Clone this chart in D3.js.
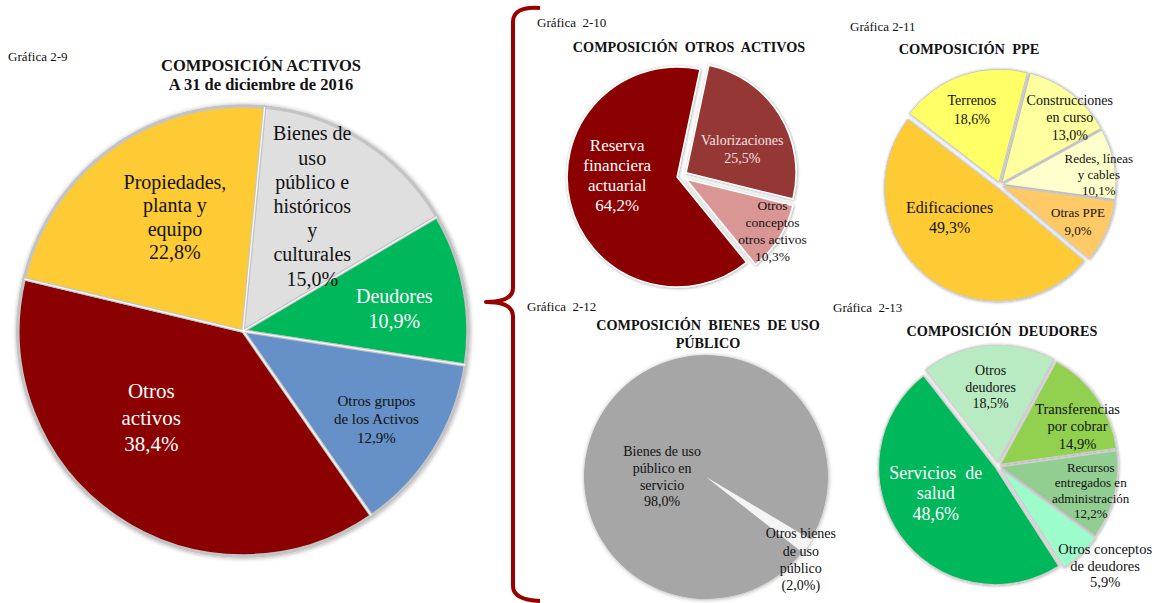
<!DOCTYPE html>
<html><head><meta charset="utf-8">
<script src="https://cdn.jsdelivr.net/npm/d3@7"></script>
<style>
html,body{margin:0;padding:0;background:#fff;}
svg text{font-family:"Liberation Serif","Times New Roman",serif;white-space:pre;}
</style></head>
<body><svg id="c" width="1160" height="603"></svg>
<script>
// ---------- DATA ----------
const activosCats = ["Bienes de\nuso\npúblico e\nhistóricos\ny\nculturales","Deudores","Otros grupos\nde los Activos","Otros\nactivos","Propiedades,\nplanta y\nequipo"];
const activosVals = [15.0,10.9,12.9,38.4,22.8];

const otrosActivosCats = ["Valorizaciones","Otros\nconceptos\notros activos","Reserva\nfinanciera\nactuarial"];
const otrosActivosVals = [25.5,10.3,64.2];

const ppeCats = ["Construcciones\nen curso","Redes, líneas\ny cables","Otras PPE","Edificaciones","Terrenos"];
const ppeVals = [13.0,10.1,9.0,49.3,18.6];

const bienesCats = ["Bienes de uso\npúblico en\nservicio","Otros bienes\nde uso\npúblico"];
const bienesVals = [98.0,2.0];

const deudoresCats = ["Otros\ndeudores","Transferencias\npor cobrar","Recursos\nentregados en\nadministración","Otros conceptos\nde deudores","Servicios  de\nsalud"];
const deudoresVals = [18.5,14.9,12.2,5.9,48.6];

const chartNames = ["Gráfica 2-9","Gráfica  2-10","Gráfica 2-11","Gráfica  2-12","Gráfica  2-13"];
const chartTitles = [["COMPOSICIÓN ACTIVOS","A 31 de diciembre de 2016"],["COMPOSICIÓN  OTROS  ACTIVOS"],["COMPOSICIÓN  PPE"],["COMPOSICIÓN  BIENES  DE USO","PÚBLICO"],["COMPOSICIÓN  DEUDORES"]];

// ---------- STYLE ----------
const svg = d3.select("#c");
const defs = svg.append("defs");
const f1 = defs.append("filter").attr("id","sh").attr("x","-20%").attr("y","-20%").attr("width","140%").attr("height","140%");
f1.append("feDropShadow").attr("dx",0.5).attr("dy",0.5).attr("stdDeviation",2).attr("flood-color","#000").attr("flood-opacity",0.35);
const f2 = defs.append("filter").attr("id","sh2").attr("x","-20%").attr("y","-20%").attr("width","140%").attr("height","140%");
f2.append("feDropShadow").attr("dx",0.5).attr("dy",0.5).attr("stdDeviation",1.5).attr("flood-color","#000").attr("flood-opacity",0.4);

const pct = (v, paren) => { const s = d3.format(".1f")(v).replace(".", ",") + "%"; return paren ? "(" + s + ")" : s; };
const rad = d => d * Math.PI / 180;

function drawPie(o){
  const g = svg.append("g");
  const pie = d3.pie().sort(null).value(d=>d).startAngle(rad(o.start)).endAngle(rad(o.start+360));
  const arcs = pie(o.values);
  const arc = d3.arc().innerRadius(0).outerRadius(o.r);
  const sg = g.append("g").attr("filter", o.groupShadow ? "url(#sh)" : null);
  arcs.forEach((a,i)=>{
    const mid = (a.startAngle + a.endAngle)/2;
    const e = o.explode[i] || 0;
    const tx = o.cx + e*Math.sin(mid), ty = o.cy - e*Math.cos(mid);
    sg.append("path").attr("d", arc(a)).attr("transform",`translate(${tx},${ty})`)
      .attr("fill", o.colors[i]).attr("stroke", o.stroke).attr("stroke-width", o.strokeW)
      .attr("filter", o.sliceShadow ? "url(#sh2)" : null);
  });
  if (o.sepLines){
    arcs.forEach(a=>{
      g.append("line").attr("x1",o.cx).attr("y1",o.cy)
        .attr("x2",o.cx+o.r*Math.sin(a.startAngle)).attr("y2",o.cy-o.r*Math.cos(a.startAngle))
        .attr("stroke","#fff").attr("stroke-width",1.3).attr("stroke-opacity",0.9);
    });
  }
  arcs.forEach((a,i)=>{
    const mid = (a.startAngle + a.endAngle)/2 + rad(o.labAdj[i][1]);
    const rr = o.r*o.labAdj[i][0];
    const lx = o.cx + rr*Math.sin(mid), ly = o.cy - rr*Math.cos(mid);
    const lines = o.cats[i].split("\n").concat([pct(o.values[i], o.paren && o.paren[i])]);
    const fs = o.fs[i], lh = o.lh[i];
    const t = g.append("text").attr("text-anchor","middle").attr("font-size",fs).attr("fill",o.textColors[i]);
    lines.forEach((ln,j)=>{
      t.append("tspan").attr("x",lx).attr("y", ly + (j-(lines.length-1)/2)*lh).attr("dy","0.35em").text(ln);
    });
  });
}

function heading(x,y,name,tx,ty,titles,fs,lh){
  svg.append("text").attr("x",x).attr("y",y).attr("font-size",13).attr("fill","#111").text(name);
  titles.forEach((t,i)=>{
    svg.append("text").attr("x",tx).attr("y",ty+i*lh).attr("text-anchor","middle")
      .attr("font-size",fs).attr("font-weight","bold").attr("fill","#111").text(t);
  });
}

// ---------- MAIN PIE 2-9 ----------
heading(8,61,chartNames[0],261,71,chartTitles[0],16.5,19);
drawPie({cx:243,cy:331,r:225,start:5.5,values:activosVals,cats:activosCats,
  colors:["#E0DFE0","#00B85C","#6590C8","#8B0000","#FECB34"],
  textColors:["#111","#fff","#111","#fff","#111"],
  stroke:"#c4c4c4",strokeW:3.5,explode:[0,0,0,0,0],groupShadow:true,sepLines:true,
  labAdj:[[0.635,-3.5],[0.68,2.3],[0.71,1.4],[0.56,12.4],[0.59,4.7]],
  fs:[20,20,15,21,20],lh:[24.2,25,18.5,26.5,23.5]});

// ---------- BRACKET ----------
svg.append("path")
  .attr("d","M540,8 Q513,6 513,22 L513,288 Q513,302 486,302 Q513,302 513,316 L513,586 Q513,600 540,601")
  .attr("fill","none").attr("stroke","#990000").attr("stroke-width",4).attr("stroke-linejoin","round");

// ---------- 2-10 ----------
heading(537,27,chartNames[1],689,52,chartTitles[1],14.2,18);
drawPie({cx:681,cy:176,r:110,start:12,values:otrosActivosVals,cats:otrosActivosCats,
  colors:["#953735","#DA9694","#8B0000"],textColors:["#F4E0E0","#111","#fff"],
  stroke:"#fff",strokeW:1.5,explode:[6,6,4],sliceShadow:true,
  labAdj:[[0.61,8],[0.97,-1.4],[0.58,14.4]],fs:[14,13.5,17],lh:[18,17,20.3]});

// ---------- 2-11 ----------
heading(850,31,chartNames[2],969,54,chartTitles[2],14.4,18);
drawPie({cx:1000,cy:185,r:113,start:14.5,values:ppeVals,cats:ppeCats,
  colors:["#FFFF9F","#FFFFCC","#FFC966","#FECB34","#FFFF66"],textColors:["#111","#111","#111","#111","#111"],
  stroke:"#c8c8c8",strokeW:1,explode:[3,3,3,4,3],sliceShadow:true,
  labAdj:[[0.86,8],[0.88,4.2],[0.76,0.9],[0.53,18.5],[0.71,-1.5]],
  fs:[14,13,13,16,14],lh:[17.5,16,18,20,18.5]});

// ---------- 2-12 ----------
heading(527,311,chartNames[3],708,330,chartTitles[3],14.2,17.5);
drawPie({cx:706,cy:477,r:122,start:128,values:bienesVals,cats:bienesCats,paren:[false,true],
  colors:["#A6A6A6","#F4F4F4"],textColors:["#111","#111"],
  stroke:"none",strokeW:0,explode:[0,1],groupShadow:true,
  labAdj:[[0.36,-33.4],[1.03,6.6]],fs:[14,14],lh:[16.8,17.3]});

// ---------- 2-13 ----------
heading(833,312,chartNames[4],1002,336,chartTitles[4],14.2,18);
drawPie({cx:998,cy:466,r:117,start:322,values:deudoresVals,cats:deudoresCats,
  colors:["#B8EBC2","#92D050","#92CD92","#9CFCCC","#00B85C"],textColors:["#111","#111","#111","#111","#fff"],
  stroke:"#cfcfcf",strokeW:1.2,explode:[4,3,3,4,3],sliceShadow:true,
  labAdj:[[0.68,-0.6],[0.76,8.2],[0.82,0.8],[1.25,-3.7],[0.58,11.8]],
  fs:[14,14.5,13,14.5,18],lh:[16.5,17.5,15.5,16.5,20.5]});
</script></body></html>
